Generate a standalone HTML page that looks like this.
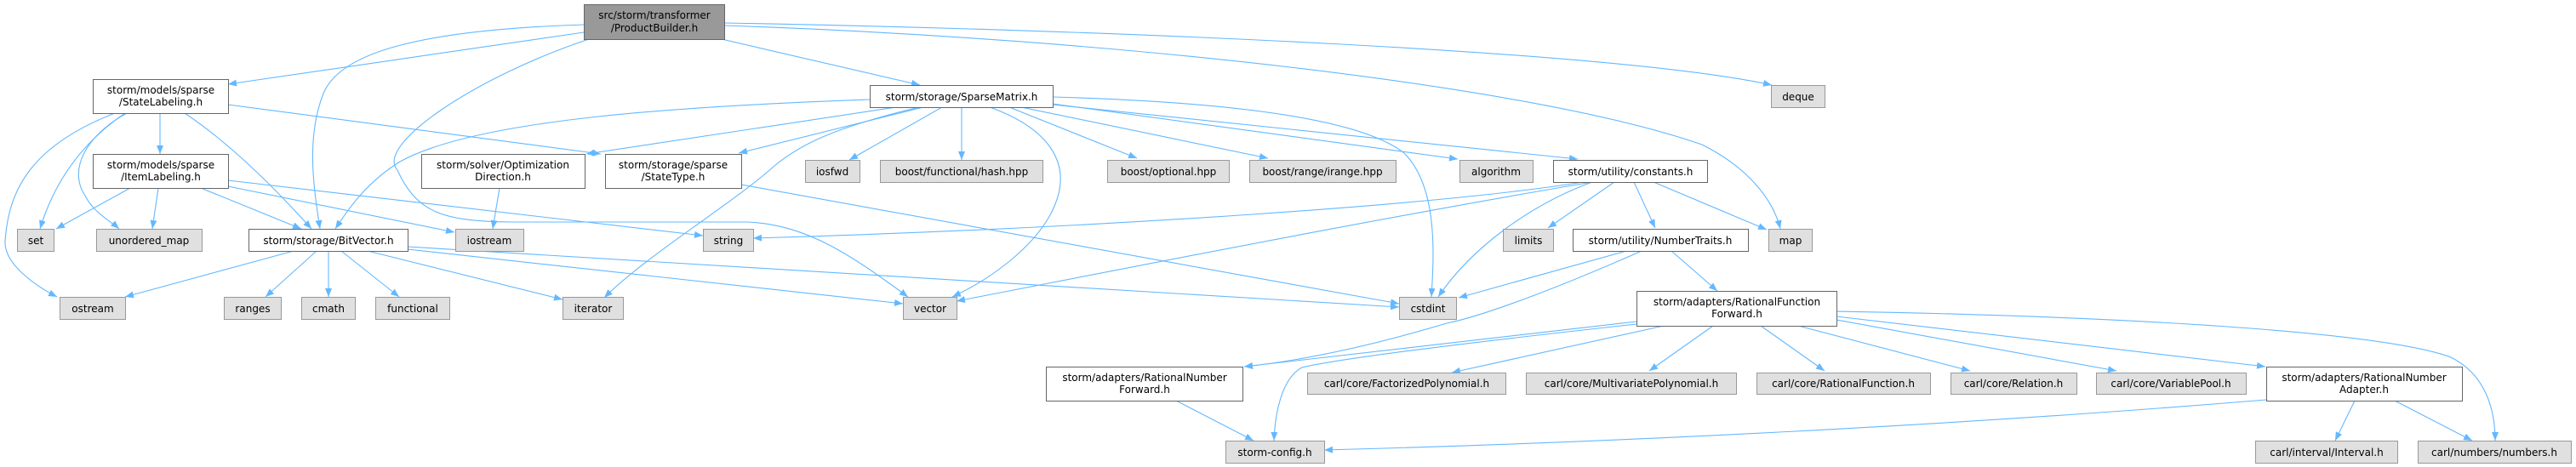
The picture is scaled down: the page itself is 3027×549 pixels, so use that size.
<!DOCTYPE html>
<html><head><meta charset="utf-8"><style>
html,body{margin:0;padding:0;background:#fff;width:3027px;height:549px;overflow:hidden}
svg text{font-family:"DejaVu Sans","Liberation Sans",sans-serif;font-size:12px;fill:#000;text-anchor:middle}
.w{fill:#fff;stroke:#666;stroke-width:1}
.g{fill:#e0e0e0;stroke:#999;stroke-width:1}
.r{fill:#999;stroke:#666;stroke-width:1}
.e{fill:none;stroke:#63b8ff;stroke-width:1.1}
</style></head><body>
<svg width="3027" height="549" viewBox="0 0 3027 549" xmlns="http://www.w3.org/2000/svg">
<defs><marker id="a" markerUnits="userSpaceOnUse" markerWidth="12" markerHeight="10" refX="10" refY="4" orient="auto"><path d="M0,0 L10,4 L0,8 z" fill="#63b8ff"/></marker></defs>
<g class="e" marker-end="url(#a)">
<path d="M686,38 L268,99"/>
<path d="M686,29 C500,35 400,60 380,110 C360,160 368,220 376,269"/>
<path d="M692,46 C560,90 440,170 467,200 C490,250 520,260 600,261 L880,261 C950,265 1000,300 1067,349"/>
<path d="M848,46 L1081,100"/>
<path d="M851,27 C1300,35 1900,60 2082,100"/>
<path d="M851,30 C1300,45 1800,100 2000,170 C2060,200 2085,240 2092,269"/>
<path d="M188,133 L188,181"/>
<path d="M217,133 C280,175 340,240 366,269"/>
<path d="M268,123 L706,181"/>
<path d="M147,133 C100,165 65,210 47,269"/>
<path d="M149,133 C100,160 80,200 100,230 C110,250 130,260 140,269"/>
<path d="M135,133 C40,170 10,220 6,284 C5,310 40,335 67,349"/>
<path d="M153,221 L66,269"/>
<path d="M186,221 L179,269"/>
<path d="M236,221 L354,269"/>
<path d="M268,219 L534,273"/>
<path d="M268,212 L826,277"/>
<path d="M345,295 L147,349"/>
<path d="M372,295 L312,349"/>
<path d="M386,295 L386,349"/>
<path d="M401,295 L469,349"/>
<path d="M432,295 L661,352"/>
<path d="M479,293 L1061,357"/>
<path d="M479,290 L1644,361"/>
<path d="M587,221 L579,269"/>
<path d="M1022,117 C800,125 560,140 470,190 C430,215 410,245 394,269"/>
<path d="M1053,126 L689,181"/>
<path d="M1085,126 L868,180"/>
<path d="M1080,126 C980,150 940,170 910,195 C860,240 760,300 710,350"/>
<path d="M1107,126 L998,188"/>
<path d="M1130,126 L1130,188"/>
<path d="M1163,126 C1230,150 1260,190 1240,240 C1220,290 1160,330 1119,349"/>
<path d="M1186,126 L1336,186"/>
<path d="M1200,126 L1490,186"/>
<path d="M1237,114 C1450,120 1600,140 1650,180 C1690,220 1685,300 1682,349"/>
<path d="M1237,122 L1713,187"/>
<path d="M1237,123 L1854,187"/>
<path d="M1860,214 C1700,240 1300,268 885,280"/>
<path d="M1871,214 C1600,260 1300,320 1124,354"/>
<path d="M871,217 L1644,357"/>
<path d="M1871,214 C1800,240 1730,290 1690,349"/>
<path d="M1897,214 L1819,268"/>
<path d="M1920,214 L1945,268"/>
<path d="M1943,214 L2076,270"/>
<path d="M1911,295 L1714,350"/>
<path d="M1929,295 C1850,330 1750,370 1700,380 C1600,410 1520,425 1462,431"/>
<path d="M1964,295 L2018,342"/>
<path d="M1923,378 L1462,431"/>
<path d="M1923,381 C1750,400 1580,420 1530,432 C1505,445 1498,490 1497,518"/>
<path d="M1955,383 L1706,438"/>
<path d="M2013,383 L1938,436"/>
<path d="M2069,383 L2144,436"/>
<path d="M2113,383 L2315,436"/>
<path d="M2158,376 L2487,436"/>
<path d="M2158,372 L2662,431"/>
<path d="M2158,366 C2500,372 2800,390 2880,420 C2920,440 2932,480 2932,518"/>
<path d="M1382,471 L1473,518"/>
<path d="M2663,470 C2300,500 1900,520 1556,529"/>
<path d="M2767,471 L2744,518"/>
<path d="M2814,471 L2905,518"/>
</g>
<rect class="r" x="686.5" y="5.5" width="165" height="41"/>
<text x="769" y="22">src/storm/transformer</text><text x="769" y="37">/ProductBuilder.h</text>
<rect class="w" x="109.5" y="93.5" width="159" height="40"/>
<text x="189" y="110">storm/models/sparse</text><text x="189" y="124">/StateLabeling.h</text>
<rect class="w" x="109.5" y="181.5" width="159" height="40"/>
<text x="189" y="198">storm/models/sparse</text><text x="189" y="212">/ItemLabeling.h</text>
<rect class="w" x="495.5" y="181.5" width="192" height="40"/>
<text x="591" y="198">storm/solver/Optimization</text><text x="591" y="212">Direction.h</text>
<rect class="w" x="711.5" y="181.5" width="160" height="40"/>
<text x="791" y="198">storm/storage/sparse</text><text x="791" y="212">/StateType.h</text>
<rect class="w" x="1022.5" y="100.5" width="215" height="26"/><text x="1130" y="118">storm/storage/SparseMatrix.h</text>
<rect class="g" x="2081.5" y="100.5" width="63" height="26"/><text x="2113" y="118">deque</text>
<rect class="g" x="946.5" y="188.5" width="64" height="26"/><text x="978" y="206">iosfwd</text>
<rect class="g" x="1034.5" y="188.5" width="191" height="26"/><text x="1130" y="206">boost/functional/hash.hpp</text>
<rect class="g" x="1301.5" y="188.5" width="143" height="26"/><text x="1373" y="206">boost/optional.hpp</text>
<rect class="g" x="1468.5" y="188.5" width="172" height="26"/><text x="1554" y="206">boost/range/irange.hpp</text>
<rect class="g" x="1715.5" y="188.5" width="86" height="26"/><text x="1758" y="206">algorithm</text>
<rect class="w" x="1825.5" y="188.5" width="181" height="26"/><text x="1916" y="206">storm/utility/constants.h</text>
<rect class="g" x="20.5" y="269.5" width="43" height="26"/><text x="42" y="287">set</text>
<rect class="g" x="113.5" y="269.5" width="124" height="26"/><text x="175" y="287">unordered_map</text>
<rect class="w" x="292.5" y="269.5" width="187" height="26"/><text x="386" y="287">storm/storage/BitVector.h</text>
<rect class="g" x="535.5" y="269.5" width="80" height="26"/><text x="575" y="287">iostream</text>
<rect class="g" x="826.5" y="269.5" width="59" height="26"/><text x="856" y="287">string</text>
<rect class="g" x="1766.5" y="269.5" width="59" height="26"/><text x="1796" y="287">limits</text>
<rect class="w" x="1848.5" y="269.5" width="206" height="26"/><text x="1951" y="287">storm/utility/NumberTraits.h</text>
<rect class="g" x="2078.5" y="269.5" width="51" height="26"/><text x="2104" y="287">map</text>
<rect class="g" x="70.5" y="349.5" width="77" height="26"/><text x="109" y="367">ostream</text>
<rect class="g" x="263.5" y="349.5" width="67" height="26"/><text x="297" y="367">ranges</text>
<rect class="g" x="354.5" y="349.5" width="63" height="26"/><text x="386" y="367">cmath</text>
<rect class="g" x="441.5" y="349.5" width="87" height="26"/><text x="485" y="367">functional</text>
<rect class="g" x="661.5" y="349.5" width="71" height="26"/><text x="697" y="367">iterator</text>
<rect class="g" x="1061.5" y="349.5" width="63" height="26"/><text x="1093" y="367">vector</text>
<rect class="g" x="1644.5" y="349.5" width="67" height="26"/><text x="1678" y="367">cstdint</text>
<rect class="w" x="1923.5" y="342.5" width="235" height="41"/>
<text x="2041" y="359">storm/adapters/RationalFunction</text><text x="2041" y="373">Forward.h</text>
<rect class="w" x="1229.5" y="431.5" width="231" height="40"/>
<text x="1345" y="448">storm/adapters/RationalNumber</text><text x="1345" y="462">Forward.h</text>
<rect class="g" x="1536.5" y="438.5" width="233" height="25"/><text x="1653" y="455">carl/core/FactorizedPolynomial.h</text>
<rect class="g" x="1793.5" y="438.5" width="247" height="25"/><text x="1917" y="455">carl/core/MultivariatePolynomial.h</text>
<rect class="g" x="2064.5" y="438.5" width="204" height="25"/><text x="2166" y="455">carl/core/RationalFunction.h</text>
<rect class="g" x="2292.5" y="438.5" width="148" height="25"/><text x="2366" y="455">carl/core/Relation.h</text>
<rect class="g" x="2463.5" y="438.5" width="176" height="25"/><text x="2551" y="455">carl/core/VariablePool.h</text>
<rect class="w" x="2663.5" y="431.5" width="230" height="40"/>
<text x="2778" y="448">storm/adapters/RationalNumber</text><text x="2778" y="462">Adapter.h</text>
<rect class="g" x="1440.5" y="518.5" width="116" height="26"/><text x="1498" y="536">storm-config.h</text>
<rect class="g" x="2650.5" y="518.5" width="167" height="26"/><text x="2734" y="536">carl/interval/Interval.h</text>
<rect class="g" x="2841.5" y="518.5" width="180" height="26"/><text x="2931" y="536">carl/numbers/numbers.h</text>
</svg>
</body></html>
